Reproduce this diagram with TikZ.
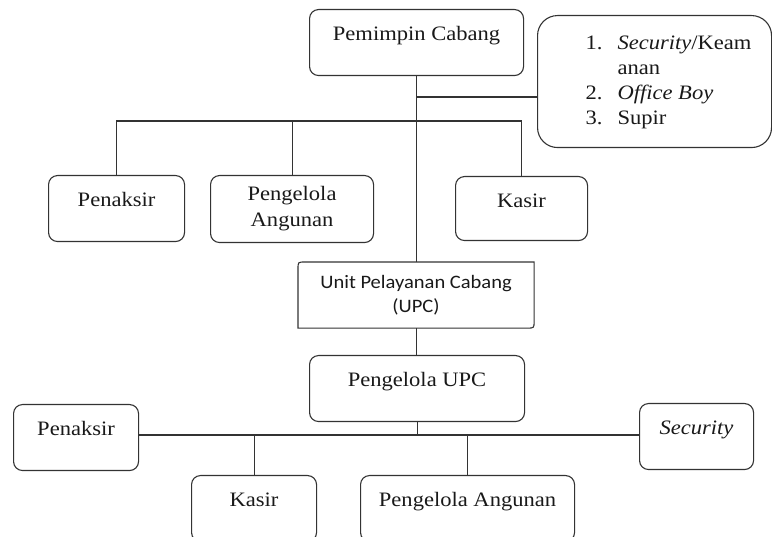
\documentclass[tikz,border=0pt]{standalone}
\usepackage{fontspec}
\setmainfont{Liberation Serif}[FakeStretch=1.1,
  UprightFont={Liberation Serif}, ItalicFont={Liberation Serif Italic}]
\newfontfamily\upcfont[FakeStretch=1.08]{Carlito}
\begin{document}
\begin{tikzpicture}[x=1pt,y=-1pt,
  line width=1.1pt, draw=black!80,
  every node/.style={font=\fontsize{20.5pt}{25pt}\selectfont, text=black!90},
  box/.style={draw=black!80, rounded corners=9pt, line width=1.1pt, inner sep=0pt,
     text height=31pt, text depth=35pt, anchor=north west},
  box2/.style={draw=black!80, rounded corners=9pt, line width=1.1pt, inner sep=0pt,
     align=center, anchor=north west},
  conn/.style={draw=black!80, line width=1.1pt}]
\useasboundingbox (0,0) rectangle (772,537);
\clip (0,0) rectangle (772,537);
% top level
\node[box, minimum width=214pt] (pc) at (309,9) {Pemimpin Cabang};
\node[box2, rounded corners=20pt, minimum width=234pt, minimum height=132pt] (rb) at (537,15)
  {\hspace*{28pt}\begin{tabular}{@{}l@{\hspace{15pt}}l@{}}
   1. & \textit{Security}/Keam\\
      & anan\\
   2. & \textit{Office Boy}\\
   3. & Supir
   \end{tabular}};
\node[box, minimum width=136pt] (pen1) at (48,175) {Penaksir};
\node[box2, minimum width=163pt, minimum height=67pt,
  font=\fontsize{20.5pt}{26pt}\selectfont] (pa1) at (210,175) {Pengelola\\Angunan};
\node[box, minimum width=132pt, text depth=33pt] (kas1) at (455,176) {Kasir};
% UPC
\node[anchor=north west, inner sep=0pt, minimum width=235pt, minimum height=65pt, align=center,
  font=\upcfont\fontsize{19pt}{24pt}\selectfont] (upc) at (298,262)
  {Unit Pelayanan Cabang\\(UPC)};
\draw (upc.south west) -- ([yshift=-7pt]upc.north west)
   .. controls (upc.north west) .. ([xshift=7pt]upc.north west)
   -- (upc.north east) -- ([yshift=7pt]upc.south east)
   .. controls (upc.south east) .. ([xshift=-7pt]upc.south east) -- cycle;
\node[box, minimum width=215pt] (puc) at (309,355) {Pengelola UPC};
\node[box, minimum width=125pt] (pen2) at (13,404) {Penaksir};
\node[box, minimum width=114pt] (sec) at (639,403) {\textit{Security}};
\node[box, minimum width=125pt] (kas2) at (191,475) {Kasir};
\node[box, minimum width=214pt] (pa2) at (360,475) {Pengelola Angunan};
% connectors
\coordinate (j1) at (416,97);
\coordinate (j2) at (416,121);
\coordinate (j3) at (416,435);
\draw[conn] (pc.south) -- (pc.south |- upc.north);
\draw[conn] (j1) -- (j1 -| rb.west);
\draw[conn] (pen1.north) -- (pen1.north |- j2) -- (kas1.north |- j2) -- (kas1.north);
\draw[conn] (pa1.north) -- (pa1.north |- j2);
\draw[conn] (pc.south |- upc.south) -- (pc.south |- puc.north);
\draw[conn] (puc.south) -- (puc.south |- j3);
\draw[conn] (pen2.east |- j3) -- (sec.west |- j3);
\draw[conn] (kas2.north) -- (kas2.north |- j3);
\draw[conn] (pa2.north) -- (pa2.north |- j3);
\end{tikzpicture}
\end{document}
